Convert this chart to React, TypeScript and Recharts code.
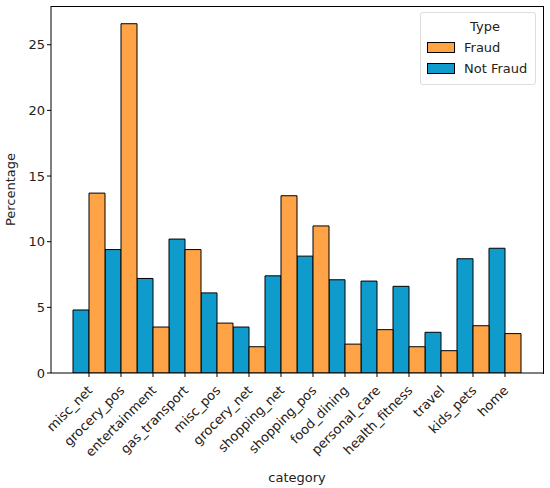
import React from "react";
import { BarChart, Bar, XAxis, YAxis } from "recharts";

const categories = [
  "misc_net", "grocery_pos", "entertainment", "gas_transport", "misc_pos",
  "grocery_net", "shopping_net", "shopping_pos", "food_dining", "personal_care",
  "health_fitness", "travel", "kids_pets", "home",
];
const fraudPct = [13.7, 26.6, 3.5, 9.4, 3.8, 2.0, 13.5, 11.2, 2.2, 3.3, 2.0, 1.7, 3.6, 3.0];
const notFraudPct = [4.8, 9.4, 7.2, 10.2, 6.1, 3.5, 7.4, 8.9, 7.1, 7.0, 6.6, 3.1, 8.7, 9.5];
const yTicks = [0, 5, 10, 15, 20, 25];

const ORANGE = "#ffa347";
const BLUE = "#0f9ccc";
const FONT = "DejaVu Sans, sans-serif";

const data = categories.map((c, i) => ({
  category: c,
  fraud: fraudPct[i],
  notFraud: notFraudPct[i],
}));

const RotatedTick = (props: any) => {
  const { x, y, payload } = props;
  return (
    <g transform={`translate(${x + 1},${y + 9})`}>
      <text
        transform="rotate(-45)"
        textAnchor="end"
        fontSize={13}
        fontFamily={FONT}
        fill="#222"
        dy="0.35em"
      >
        {payload.value}
      </text>
    </g>
  );
};

const LegendBox = () => (
  <div
    style={{
      position: "absolute",
      left: 420,
      top: 12,
      width: 116,
      boxSizing: "border-box",
      border: "1px solid #ddd",
      borderRadius: 3,
      background: "#fff",
      padding: "3px 6px 5px 6px",
      fontFamily: FONT,
      fontSize: 13,
      color: "#222",
      lineHeight: "21px",
    }}
  >
    <div style={{ textAlign: "center", paddingLeft: 14 }}>Type</div>
    {[
      { label: "Fraud", color: ORANGE },
      { label: "Not Fraud", color: BLUE },
    ].map((e) => (
      <div key={e.label} style={{ display: "flex", alignItems: "center" }}>
        <span
          style={{
            display: "inline-block",
            width: 26,
            height: 9,
            background: e.color,
            border: "1px solid #000",
            marginRight: 9,
          }}
        />
        {e.label}
      </div>
    ))}
  </div>
);

export default function App() {
  return (
    <div style={{ position: "fixed", left: 0, top: 0, width: 550, height: 488, background: "#fff" }}>
      <BarChart
        width={550}
        height={488}
        data={data}
        margin={{ top: 6, right: 7, left: 0, bottom: 0 }}
        barCategoryGap={0}
        barGap={0}
      >
        <XAxis
          dataKey="category"
          height={115}
          interval={0}
          tick={<RotatedTick />}
          tickSize={4}
          stroke="#000"
          padding={{ left: 22, right: 22 }}
          label={{
            value: "category",
            position: "insideBottom",
            offset: 6,
            fontSize: 13,
            fontFamily: FONT,
            fill: "#222",
          }}
        />
        <YAxis
          width={51}
          domain={[0, 27.95]}
          ticks={yTicks}
          allowDataOverflow
          tickSize={4}
          stroke="#000"
          tick={{ fontSize: 13, fontFamily: FONT, fill: "#222" }}
          label={{
            value: "Percentage",
            angle: -90,
            position: "insideLeft",
            offset: 10,
            fontSize: 13,
            fontFamily: FONT,
            fill: "#222",
            style: { textAnchor: "middle" },
          }}
        />
        <Bar dataKey="notFraud" fill={BLUE} stroke="#000" strokeWidth={1} isAnimationActive={false} />
        <Bar dataKey="fraud" fill={ORANGE} stroke="#000" strokeWidth={1} isAnimationActive={false} />
      </BarChart>
      <div
        style={{
          position: "absolute",
          left: 51,
          top: 6,
          width: 493,
          height: 368,
          borderTop: "1px solid #000",
          borderRight: "1px solid #000",
          boxSizing: "border-box",
          pointerEvents: "none",
        }}
      />
      <LegendBox />
    </div>
  );
}
